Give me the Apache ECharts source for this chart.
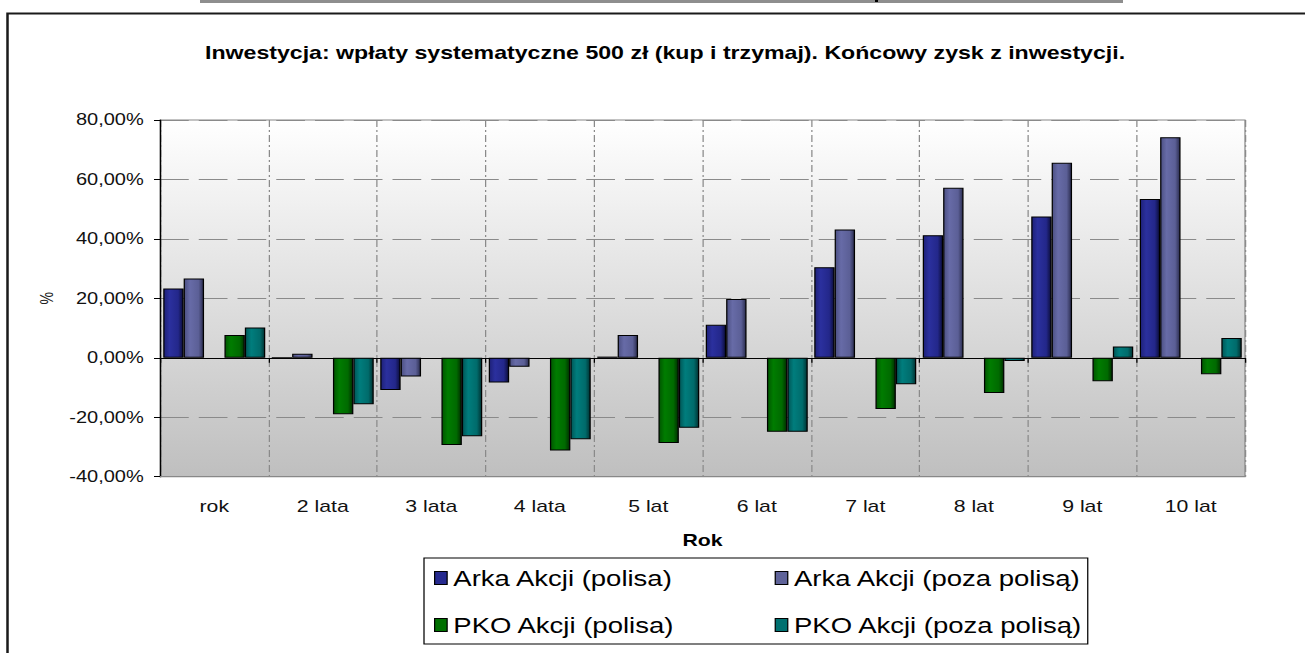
<!DOCTYPE html>
<html><head><meta charset="utf-8">
<script src="https://cdn.jsdelivr.net/npm/echarts@6/dist/echarts.min.js"></script>
<style>
html,body{margin:0;padding:0;background:#fff;overflow:hidden;width:1305px;height:653px}
#c{width:1044px;height:653px;transform:scaleX(1.25);transform-origin:0 0;}
</style></head><body><div id="c"></div>
<script>
// ---- data ----
const categories = ['rok', '2 lata', '3 lata', '4 lata', '5 lat', '6 lat', '7 lat', '8 lat', '9 lat', '10 lat'];
const arkaPolisa = [23.3, 0, -10.8, -8.3, 0.4, 11.1, 30.5, 41.2, 47.5, 53.4];
const arkaPoza   = [26.7, 1.4, -6.3, -3.0, 7.7, 19.8, 43.2, 57.2, 65.6, 74.2];
const pkoPolisa  = [7.7, -19.0, -29.3, -31.2, -28.7, -24.9, -17.2, -11.8, -7.9, -5.5];
const pkoPoza    = [10.2, -15.6, -26.4, -27.4, -23.5, -24.9, -8.9, -1.1, 3.8, 6.7];
const seriesNames = ['Arka Akcji (polisa)', 'Arka Akcji (poza polisą)', 'PKO Akcji (polisa)', 'PKO Akcji (poza polisą)'];
const yTickValues = [-40, -20, 0, 20, 40, 60, 80];
const titleText = 'Inwestycja: wpłaty systematyczne 500 zł (kup i trzymaj). Końcowy zysk z inwestycji.';

// ---- styling ----
const SX = 1.25; // horizontal stretch of the original picture
const FONT = "'Liberation Sans', Arial, sans-serif";
const G = echarts.graphic.LinearGradient;
const palettes = [
  ['#1e2178', '#2b309e', '#23278a', '#0b0d3a'],
  ['#4c5083', '#676ba7', '#5b5f96', '#2a2c4e'],
  ['#005600', '#007c00', '#006a00', '#002e00'],
  ['#005656', '#007d7d', '#006b6b', '#003333']
];
const legendColors = ['#262a8f', '#5f6399', '#007000', '#007070'];
function barFill(p) {
  return new G(0, 0, 1, 0, [
    {offset: 0, color: p[0]}, {offset: 0.3, color: p[1]},
    {offset: 0.75, color: p[2]}, {offset: 1, color: p[3]}
  ]);
}
function bar(name, data, pal) {
  return {
    name: name, type: 'bar', data: data, xAxisIndex: 0,
    barGap: '0%', barCategoryGap: '6%',
    itemStyle: {color: barFill(pal), borderColor: '#000', borderWidth: 1},
    emphasis: {disabled: true}
  };
}

const chart = echarts.init(document.getElementById('c'), null, {renderer: 'svg'});
chart.setOption({
  animation: false,
  backgroundColor: 'transparent',
  title: {
    text: titleText, left: 205 / SX, top: 43, padding: 0,
    textStyle: {fontSize: 18.5, fontWeight: 'bold', fontFamily: FONT, color: '#000'}
  },
  graphic: [
    {type: 'rect', silent: true, shape: {x: 200 / SX, y: 0, width: (1123 - 200) / SX, height: 3},
     style: {fill: '#8e8e8e'}},
    {type: 'rect', silent: true, shape: {x: 875 / SX, y: 0, width: 3 / SX, height: 2},
     style: {fill: '#000'}},
    {type: 'rect', silent: true, shape: {x: 7.5 / SX, y: 13.5, width: 2000, height: 2000},
     style: {fill: 'none', stroke: '#1a1a1a', lineWidth: 2}}
  ],
  grid: {
    left: 160 / SX, right: 1044 - 1245 / SX, top: 120, bottom: 653 - 476.7,
    containLabel: false, outerBoundsMode: 'none',
    show: true, borderColor: '#888', borderWidth: 1,
    backgroundColor: new G(0, 0, 0, 1, [{offset: 0, color: '#ffffff'}, {offset: 1, color: '#bfbfbf'}])
  },
  legend: {
    data: seriesNames.map((n, i) => ({name: n, itemStyle: {color: legendColors[i], borderColor: '#000', borderWidth: 1}})),
    left: 424 / SX, top: 558, width: 530,
    orient: 'horizontal', icon: 'rect', itemWidth: 10, itemHeight: 13, itemGap: 25,
    padding: [9, 3, 8, 8], borderColor: '#000', borderWidth: 1,
    selectedMode: false,
    textStyle: {fontSize: 22, fontFamily: FONT, color: '#000', width: 232, lineHeight: 22}
  },
  xAxis: [
    {
      type: 'category', data: categories, position: 'bottom',
      axisLine: {onZero: false, lineStyle: {color: '#888', width: 1}},
      axisTick: {show: false},
      axisLabel: {interval: 0, fontSize: 17, fontFamily: FONT, color: '#111', margin: 21},
      splitLine: {show: true, interval: 0, lineStyle: {color: '#8a8a8a', width: 1, type: [7, 3, 2, 3]}},
      name: 'Rok', nameLocation: 'middle', nameGap: 55,
      nameTextStyle: {fontSize: 17, fontWeight: 'bold', fontFamily: FONT, color: '#000'}
    },
    {
      type: 'category', data: categories, position: 'bottom',
      axisLine: {show: true, onZero: true, lineStyle: {color: '#000', width: 1}},
      axisTick: {show: true, interval: 0, length: 5, lineStyle: {color: '#000'}},
      axisLabel: {show: false},
      splitLine: {show: false}
    }
  ],
  yAxis: {
    type: 'value', min: yTickValues[0], max: yTickValues[yTickValues.length - 1],
    interval: yTickValues[1] - yTickValues[0],
    name: '%', nameLocation: 'middle', nameRotate: 90, nameGap: 83,
    nameTextStyle: {fontSize: 14, fontFamily: FONT, color: '#222'},
    axisLine: {show: true, lineStyle: {color: '#000', width: 1}},
    axisTick: {show: true, inside: false, length: 6 / SX, lineStyle: {color: '#000'}},
    axisLabel: {
      fontSize: 16, fontFamily: FONT, color: '#111', margin: 13,
      formatter: v => v.toFixed(2).replace('.', ',') + '%'
    },
    splitLine: {show: true, lineStyle: {color: '#8a8a8a', width: 1, type: [23, 8]}}
  },
  series: [
    bar(seriesNames[0], arkaPolisa, palettes[0]),
    bar(seriesNames[1], arkaPoza, palettes[1]),
    {name: 'spacer', type: 'bar', data: categories.map(() => '-'), barGap: '0%', barCategoryGap: '6%', silent: true},
    bar(seriesNames[2], pkoPolisa, palettes[2]),
    bar(seriesNames[3], pkoPoza, palettes[3])
  ]
});
</script></body></html>
